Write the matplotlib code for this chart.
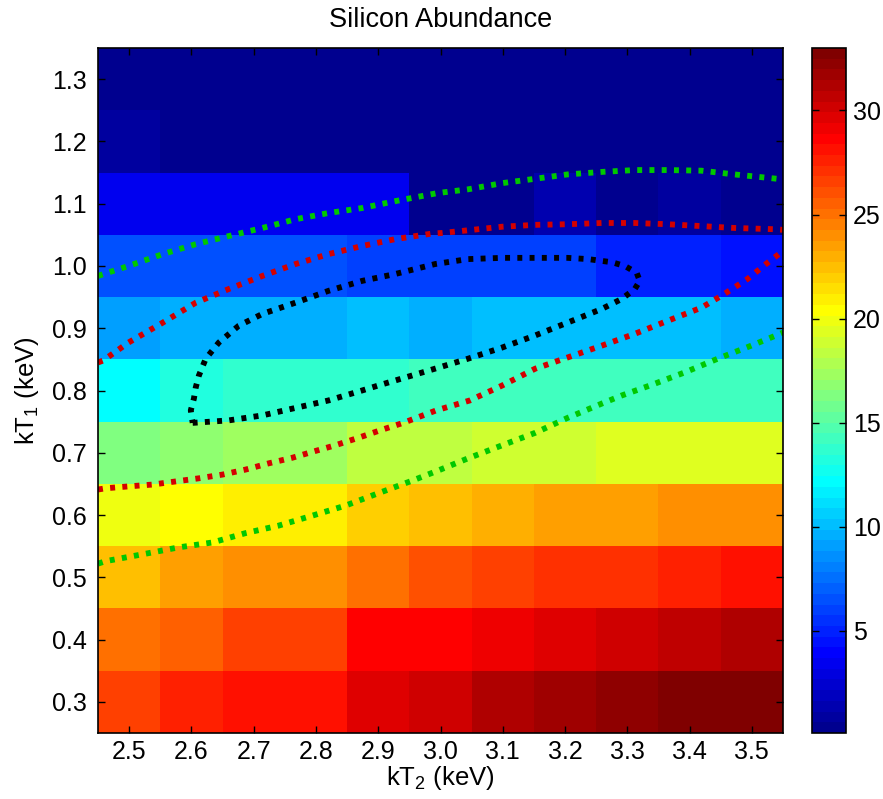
import numpy as np
import matplotlib
matplotlib.use('Agg')
import matplotlib.pyplot as plt
from matplotlib.colors import ListedColormap

plt.rcParams['font.family'] = ['Liberation Sans', 'DejaVu Sans']
plt.rcParams['mathtext.fontset'] = 'custom'
plt.rcParams['mathtext.rm'] = 'Liberation Sans'

# grid centres
kT2 = [2.5, 2.6, 2.7, 2.8, 2.9, 3.0, 3.1, 3.2, 3.3, 3.4, 3.5]
kT1 = [0.3, 0.4, 0.5, 0.6, 0.7, 0.8, 0.9, 1.0, 1.1, 1.2, 1.3]

# silicon abundance, rows = kT1 (0.3 at bottom), cols = kT2
abund = [
    [26.6, 27.8, 28.2, 28.2, 29.8, 30.3, 31.3, 31.8, 32.4, 32.9, 33.0],
    [25.1, 25.6, 26.6, 26.6, 28.7, 28.7, 29.2, 29.8, 30.3, 30.8, 31.3],
    [22.5, 23.5, 24.0, 24.0, 25.1, 26.1, 26.6, 27.1, 27.1, 27.6, 28.2],
    [19.9, 20.4, 21.0, 21.0, 22.0, 22.5, 23.0, 23.5, 23.5, 24.0, 24.0],
    [16.3, 16.8, 17.3, 17.3, 18.35, 18.35, 18.9, 18.9, 19.4, 19.4, 19.4],
    [12.4, 13.0, 13.6, 13.6, 13.8, 14.0, 14.3, 14.3, 14.3, 14.3, 14.3],
    [9.3, 9.6, 9.6, 9.6, 10.2, 9.6, 10.2, 10.2, 10.2, 10.2, 9.6],
    [6.3, 6.3, 6.3, 6.3, 6.0, 6.0, 6.0, 6.0, 5.2, 5.2, 4.7],
    [3.4, 3.4, 3.4, 3.4, 3.4, 0.3, 0.3, 1.4, 0.4, 0.9, 0.3],
    [0.9, 0.3, 0.3, 0.3, 0.3, 0.3, 0.3, 0.3, 0.3, 0.3, 0.3],
    [0.1, 0.2, 0.2, 0.2, 0.2, 0.2, 0.2, 0.2, 0.2, 0.2, 0.2],
]

# confidence contours (kT2, kT1)
black_x = [2.602, 2.660, 2.714, 2.767, 2.820, 2.874, 2.900, 2.954, 2.991, 3.044,
           3.099, 3.151, 3.204, 3.259, 3.291, 3.312, 3.320, 3.315, 3.296, 3.275,
           3.237, 3.204, 3.152, 3.099, 3.044, 2.991, 2.927, 2.874, 2.820, 2.767,
           2.714, 2.676, 2.644, 2.623, 2.612, 2.607, 2.604, 2.599, 2.602]
black_y = [0.748, 0.752, 0.760, 0.772, 0.784, 0.800, 0.808, 0.824, 0.835, 0.851,
           0.869, 0.888, 0.909, 0.931, 0.947, 0.963, 0.976, 0.989, 1.000, 1.006,
           1.011, 1.013, 1.013, 1.013, 1.011, 1.003, 0.987, 0.976, 0.960, 0.941,
           0.923, 0.904, 0.877, 0.851, 0.824, 0.805, 0.787, 0.768, 0.748]

red_up_x = [2.450, 2.458, 2.499, 2.554, 2.607, 2.660, 2.714, 2.767, 2.820, 2.874,
            2.927, 2.986, 3.003, 3.099, 3.152, 3.204, 3.259, 3.312, 3.365, 3.419,
            3.472, 3.536, 3.550]
red_up_y = [0.845, 0.848, 0.877, 0.909, 0.941, 0.963, 0.984, 1.003, 1.019, 1.032,
            1.043, 1.052, 1.053, 1.063, 1.066, 1.067, 1.069, 1.069, 1.067, 1.064,
            1.061, 1.059, 1.058]
red_lo_x = [2.450, 2.4625, 2.499, 2.538, 2.575, 2.612, 2.650, 2.687, 2.724, 2.762,
            2.796, 2.831, 2.868, 2.903, 2.940, 2.993, 3.047, 3.099, 3.152, 3.204,
            3.259, 3.312, 3.365, 3.419, 3.451, 3.493, 3.525, 3.550]
red_lo_y = [0.641, 0.643, 0.646, 0.649, 0.654, 0.659, 0.665, 0.673, 0.683, 0.692,
            0.702, 0.712, 0.724, 0.736, 0.748, 0.768, 0.784, 0.808, 0.835, 0.853,
            0.872, 0.891, 0.912, 0.933, 0.952, 0.979, 1.005, 1.024]

green_up_x = [2.450, 2.459, 2.499, 2.554, 2.607, 2.660, 2.714, 2.767, 2.820, 2.874,
              2.927, 2.995, 3.044, 3.099, 3.152, 3.204, 3.259, 3.312, 3.365, 3.419,
              3.472, 3.550]
green_up_y = [0.984, 0.987, 1.000, 1.019, 1.035, 1.048, 1.061, 1.075, 1.085, 1.093,
              1.104, 1.117, 1.123, 1.133, 1.140, 1.147, 1.151, 1.154, 1.154, 1.153,
              1.147, 1.139]
green_lo_x = [2.450, 2.4625, 2.527, 2.579, 2.634, 2.687, 2.740, 2.794, 2.847, 2.900,
              2.954, 2.995, 3.044, 3.099, 3.152, 3.204, 3.259, 3.291, 3.339, 3.392,
              3.445, 3.499, 3.550]
green_lo_y = [0.522, 0.526, 0.538, 0.548, 0.556, 0.571, 0.583, 0.599, 0.615, 0.635,
              0.655, 0.671, 0.691, 0.712, 0.732, 0.756, 0.779, 0.792, 0.809, 0.829,
              0.851, 0.872, 0.893]


def matlab_jet(n=64):
    m = n // 4
    u = np.concatenate([np.arange(1, m + 1) / m, np.ones(m - 1), np.arange(m, 0, -1) / m])
    g = int(np.ceil(m / 2)) - (1 if n % 4 == 1 else 0) + np.arange(1, len(u) + 1)
    r = g + m
    b = g - m
    J = np.zeros((n, 3))
    J[r[r <= n] - 1, 0] = u[r <= n]
    J[g[g <= n] - 1, 1] = u[g <= n]
    J[b[b >= 1] - 1, 2] = u[b >= 1]
    return ListedColormap(J)


Z = np.array(abund)
fig = plt.figure(figsize=(8.83, 7.99), dpi=100)
ax = fig.add_axes([98 / 883, 66 / 799, 685 / 883, 685 / 799])
mesh = ax.pcolormesh(kT2, kT1, Z, shading='nearest', cmap=matlab_jet(64),
                     vmin=Z.min(), vmax=Z.max())

dot = dict(lw=4.2, linestyle=(0, (0.85, 1.25)), dash_capstyle='butt')
ax.plot(green_up_x, green_up_y, color='#00c800', **dot)
ax.plot(green_lo_x, green_lo_y, color='#00c800', **dot)
ax.plot(red_up_x, red_up_y, color='#d40000', **dot)
ax.plot(red_lo_x, red_lo_y, color='#d40000', **dot)
ax.plot(black_x, black_y, color='black', **dot)

ax.set_xlim(2.45, 3.55)
ax.set_ylim(0.25, 1.35)
ax.set_xticks(kT2)
ax.set_yticks(kT1)
ax.set_xticklabels([f'{v:.1f}' for v in kT2])
ax.set_yticklabels([f'{v:.1f}' for v in kT1])
ax.tick_params(direction='in', top=True, right=True, length=5, width=1,
               labelsize=18)
ax.tick_params(axis='x', pad=5)
ax.tick_params(axis='y', pad=8)
for s in ax.spines.values():
    s.set_linewidth(1.2)

ax.set_title('Silicon Abundance', fontsize=19.5, pad=15)
ax.set_xlabel(r'kT$_\mathregular{2}$ (keV)', fontsize=18.5, labelpad=0)
ax.set_ylabel(r'kT$_\mathregular{1}$ (keV)', fontsize=18.5, labelpad=8)

cax = fig.add_axes([812 / 883, 66 / 799, 34 / 883, 685 / 799])
cb = fig.colorbar(mesh, cax=cax, ticks=[5, 10, 15, 20, 25, 30])
cb.outline.set_linewidth(1.2)
cax.tick_params(direction='in', left=True, right=True, length=5, width=1,
                labelsize=18, pad=5)

fig.savefig('out.png', dpi=100)
